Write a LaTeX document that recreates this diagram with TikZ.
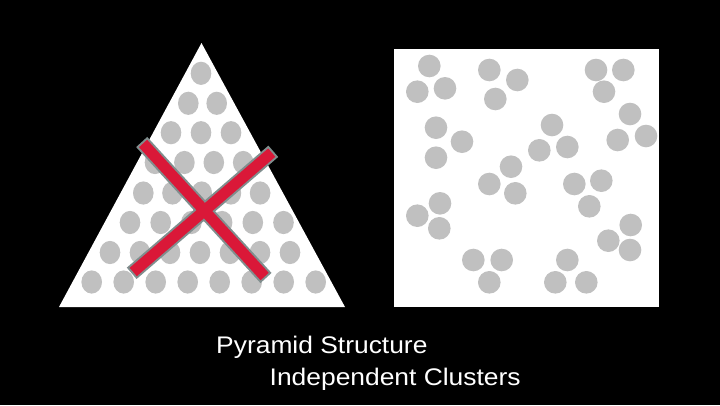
\documentclass[tikz,border=0pt]{standalone}
\usepackage{fontspec}
\setmainfont{Liberation Sans}
\definecolor{dotgray}{RGB}{192,192,192}
\definecolor{xred}{RGB}{218,24,56}
\definecolor{xedge}{RGB}{128,142,142}
\tikzset{
  tdot/.style={fill=dotgray},
  sdot/.style={fill=dotgray},
  label text/.style={text=white, inner sep=0pt, anchor=base west, font=\fontsize{24}{28}\selectfont, xscale=1.1},
  xbarout/.style={draw=xedge, line width=15pt, line cap=butt},
  xbarin/.style={draw=xred, line width=11pt, line cap=butt, shorten <=2pt, shorten >=2pt}
}
\begin{document}
\begin{tikzpicture}[x=1pt,y=-1pt]
\fill[black] (0,0) rectangle (720,405);
\useasboundingbox (0,0) rectangle (720,405);
% triangle
\fill[white] (59,307) -- (201.5,43) -- (345,307) -- cycle;
% dots in triangle: row y, start x, spacing, count
\foreach \ry/\sx/\dx/\n in {73.3/201/0/1, 103.3/188.3/28.4/2, 132.7/171/30/3, 162.5/155/29.4/4, 193/143.3/29.2/5, 222.5/130/30.7/6, 252.5/110/30/7, 282/91.7/32/8}{
  \foreach \k in {1,...,\n}{
    \fill[tdot] ({\sx+(\k-1)*\dx},\ry) ellipse [x radius=10.3, y radius=11.6];
  }
}
% X
\coordinate (b1s) at (141.7,142);
\coordinate (b1e) at (266,278);
\coordinate (b2s) at (273.3,151.3);
\coordinate (b2e) at (131.7,273.3);
\draw[xbarout] (b1s) -- (b1e);
\draw[xbarout] (b2s) -- (b2e);
\draw[xbarin] (b1s) -- (b1e);
\draw[xbarin] (b2s) -- (b2e);
% square
\fill[white] (394,49) rectangle (659,307);
\foreach \cx/\cy in {
  429.3/66, 417.3/91.7, 445/88.3,
  489.3/70, 517.3/80, 495.3/99,
  596/70, 623.3/70, 604/91.7,
  630/114, 617.7/140, 646/136,
  436/127.7, 462/141.7, 436/157.7,
  552/125, 539.3/150.3, 567.3/147,
  511/166.7, 489.3/184, 515.3/193.3,
  574.3/184, 601.3/180.7, 589.3/206.3,
  440/203.3, 417.3/215.7, 439.3/228.3,
  630.7/225, 608.3/240.7, 630/250,
  473.3/260, 501.7/260, 489.3/282.3,
  567.3/260, 555.3/282.3, 586.3/282.3}{
  \fill[sdot] (\cx,\cy) circle [radius=11.3];
}
% labels
\node[label text] (t1) at (216,353.5) {Pyramid Structure};
\node[label text] (t2) at (269.5,385.5) {Independent Clusters};
\end{tikzpicture}
\end{document}
